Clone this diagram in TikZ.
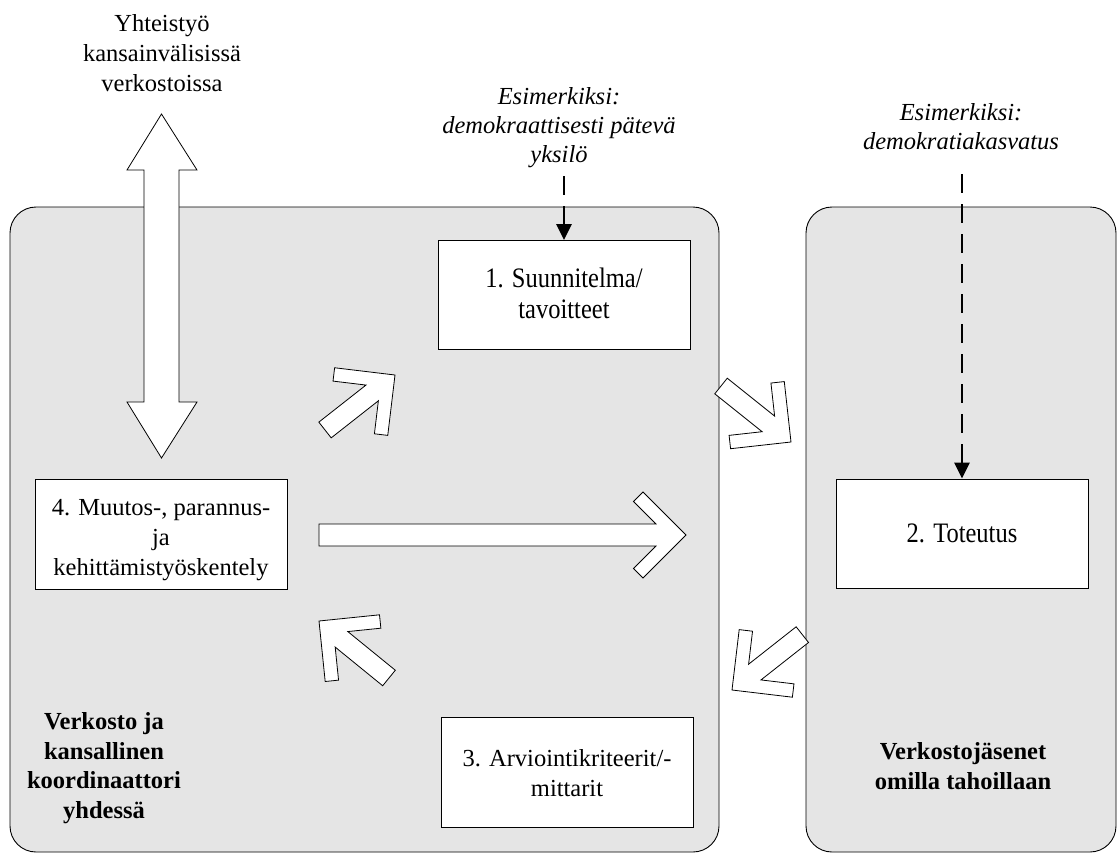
\documentclass[tikz,border=0pt]{standalone}
\usepackage{fontspec}
\setmainfont{Liberation Serif}
\usetikzlibrary{arrows.meta}
\definecolor{panelgray}{RGB}{229,229,229}
\tikzset{
  panel/.style={draw=black, line width=0.9pt, fill=panelgray, rounded corners=26pt, minimum height=645pt, inner sep=0pt},
  stepbox/.style={draw=black, line width=0.9pt, fill=white, minimum width=252pt, minimum height=109pt, inner sep=0pt},
  boxtext/.style={align=center, inner sep=0pt, font=\fontsize{24.5}{30}\selectfont},
  tallboxtext/.style={align=center, inner sep=0pt, yscale=1.15, transform shape, font=\fontsize{24.5}{27}\selectfont},
  blockarrow/.style={draw=black, line width=0.8pt, fill=white, line join=miter},
  dasharrow/.style={line width=2.8pt, dash pattern=on 19pt off 11pt, -{Triangle[length=16pt,width=15pt]}},
  plaintext/.style={align=center, inner sep=0pt, font=\fontsize{24.5}{30}\selectfont},
  exampletext/.style={align=center, inner sep=0pt, font=\fontsize{24.5}{29}\selectfont\itshape},
  boldlabel/.style={align=center, inner sep=0pt, font=\fontsize{24.5}{29.5}\selectfont\bfseries},
}
\newcommand\blockarr[5]{%
  \pgfmathsetmacro\baAng{atan2(-((#2)-(#4)), (#1)-(#3))}%
  \pgfmathsetmacro\baLen{veclen((#1)-(#3), (#2)-(#4))}%
  \begin{scope}[shift={(#1,#2)}, x=1pt, y=1pt, rotate=\baAng]
    \draw[blockarrow] (-\baLen,-#5) -- ({-19-#5},-#5) -- (-52.5,-33.5) -- (-43,-43) -- (0,0)
      -- (-43,43) -- (-52.5,33.5) -- ({-19-#5},#5) -- (-\baLen,#5) -- cycle;
  \end{scope}}
\begin{document}
\begin{tikzpicture}[x=1pt, y=-1pt]
  \fill[white] (0,0) rectangle (1117,855);
  \useasboundingbox (0,0) rectangle (1117,855);

  % panels
  \node[panel, minimum width=709pt] (pL) at (364.5,529.5) {};
  \node[panel, minimum width=310pt] (pR) at (961,529.5) {};

  % step boxes
  \node[stepbox] (b1) at (564,295) {};
  \node[stepbox] (b2) at (962,533.5) {};
  \node[stepbox, minimum height=110pt] (b3) at (567,772) {};
  \node[stepbox, minimum height=110pt] (b4) at (161,534) {};
  \node[tallboxtext] (b1t) at (564,293) {1. Suunnitelma/\\tavoitteet};
  \node[tallboxtext] (b2t) at (962,533) {2. Toteutus};
  \node[boxtext] (b3t) at (567,773.5) {3. Arviointikriteerit/-\\mittarit};
  \node[boxtext] (b4t) at (161,540) {4. Muutos-, parannus-\\ja\\kehittämistyöskentely};

  % labels
  \node[plaintext] (top) at (162,53.5) {Yhteistyö\\kansainvälisissä\\verkostoissa};
  \node[exampletext] (ex1) at (559,128) {Esimerkiksi:\\demokraattisesti pätevä\\yksilö};
  \node[exampletext] (ex2) at (961,127) {Esimerkiksi:\\demokratiakasvatus};
  \node[boldlabel] (lblL) at (104,768) {Verkosto ja\\kansallinen\\koordinaattori\\yhdessä};
  \node[boldlabel] (lblR) at (963,766) {Verkostojäsenet\\omilla tahoillaan};

  % vertical double block arrow
  \coordinate (vt) at (161.5,114);
  \coordinate (vb) at (161.5,458);
  \draw[blockarrow] (vt) -- (197,170) -- (179,170) -- (179,402) -- (197,402) -- (vb)
    -- (127,402) -- (144,402) -- (144,170) -- (127,170) -- cycle;

  % chevron block arrows
  \blockarr{686}{535}{319}{535}{11}
  \blockarr{395}{375}{325}{430}{10}
  \blockarr{319}{621}{389}{678}{10}
  \blockarr{791}{442}{721}{386}{10}
  \blockarr{732}{690}{802.5}{634.5}{10}

  % dashed arrows
  \coordinate (d1) at (564,176);
  \coordinate (d2) at (962,174);
  \draw[dasharrow] (d1) -- (b1.north);
  \draw[dasharrow] (d2) -- (b2.north);
\end{tikzpicture}
\end{document}
